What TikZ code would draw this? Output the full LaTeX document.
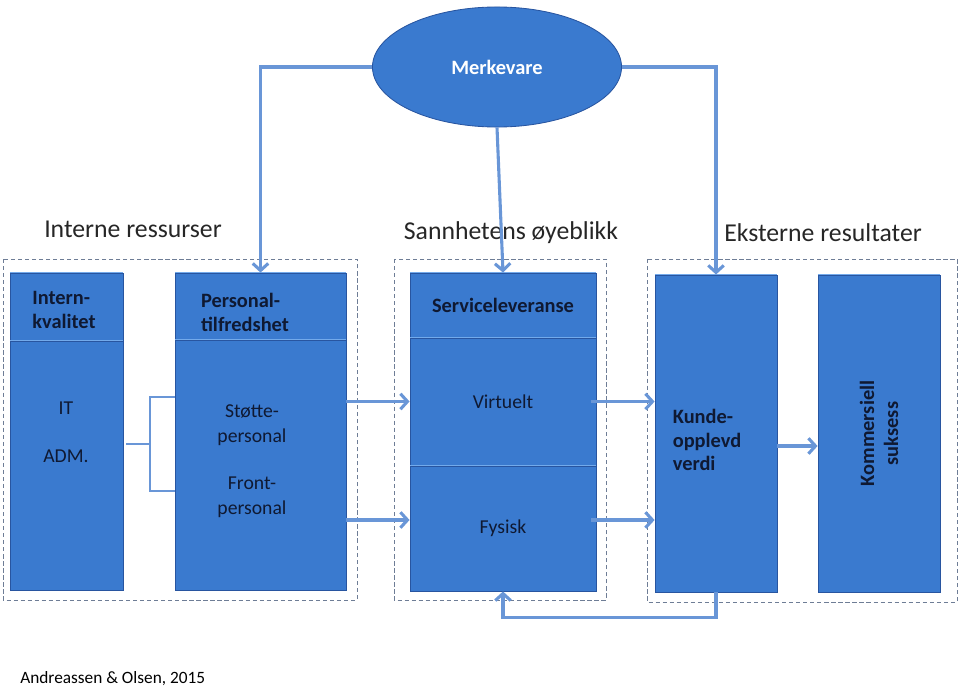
\documentclass[tikz,border=0pt]{standalone}
\usepackage{fontspec}
\setmainfont{Carlito}
\usetikzlibrary{arrows.meta,shapes.geometric}
\definecolor{boksblaa}{RGB}{58,122,207}
\definecolor{kant}{RGB}{40,85,160}
\definecolor{lys}{RGB}{115,170,235}
\definecolor{pilblaa}{RGB}{105,150,215}
\definecolor{strekgraa}{RGB}{110,125,150}
\definecolor{morktekst}{RGB}{15,25,50}
\begin{document}
\begin{tikzpicture}[x=0.025cm, y=-0.025cm,
    boks/.style={rectangle, draw=kant, fill=boksblaa, inner sep=0pt, line width=0.6pt,
        path picture={\draw[lys, line width=2pt] (path picture bounding box.north west) -- (path picture bounding box.north east);}},
    merke/.style={ellipse, draw=kant, fill=boksblaa, line width=0.6pt, minimum width=6.225cm, minimum height=3cm,
        text=white, font=\fontsize{14.5}{17}\selectfont\bfseries},
    tekst/.style={text=morktekst, font=\fontsize{14}{17.5}\selectfont, align=center, inner sep=0pt},
    fet/.style={tekst, font=\fontsize{14.5}{17}\selectfont\bfseries},
    overskrift/.style={text=black!85, font=\fontsize{18.3}{21}\selectfont},
    pil/.style={draw=pilblaa, line width=2.2pt, -{Straight Barb[length=5pt,width=11pt]}},
    tynn/.style={draw=pilblaa, line width=1pt},
    stiplet/.style={draw=strekgraa, line width=0.7pt, dash pattern=on 3pt off 2pt}]
        \useasboundingbox (0,0) rectangle (960,690);

        % Merkevare
        \node[merke] (merke) at (497,67) {Merkevare};

        % Overskrifter
        \node[overskrift] (intres) at (133,229) {Interne ressurser};
        \node[overskrift] (sann) at (511,233) {Sannhetens øyeblikk};
        \node[overskrift] (ekst) at (823,233) {Eksterne resultater};

        % Stiplede rammer
        \draw[stiplet] (3,259) rectangle (357,600);
        \draw[stiplet] (394,259) rectangle (606,600);
        \draw[stiplet] (647,259) rectangle (957,602);

        % Intern kvalitet
        \node[boks, minimum width=2.825cm, minimum height=1.675cm] (inthode) at (66.5,306.5) {};
        \node[boks, minimum width=2.825cm, minimum height=6.225cm] (intkropp) at (66.5,465.5) {};
        \node[fet, align=left] (intnavn) at (64,310) {Intern-\\kvalitet};
        \node[tekst] (it) at (66,408) {IT};
        \node[tekst] (adm) at (66,456) {ADM.};

        % Personaltilfredshet
        \node[boks, minimum width=4.275cm, minimum height=1.65cm] (pershode) at (260.5,306) {};
        \node[boks, minimum width=4.275cm, minimum height=6.25cm] (perskropp) at (260.5,465) {};
        \node[fet, align=left] (persnavn) at (245,312) {Personal-\\tilfredshet};
        \node[tekst] (stotte) at (252,425) {Støtte-\\personal};
        \node[tekst] (front) at (252,497) {Front-\\personal};

        % Serviceleveranse
        \node[boks, fet, minimum width=4.65cm, minimum height=1.6cm] (servhode) at (503,305) {Serviceleveranse};
        \node[boks, tekst, minimum width=4.65cm, minimum height=3.175cm] (virt) at (503,401.5) {Virtuelt};
        \node[boks, tekst, minimum width=4.65cm, minimum height=3.125cm] (fys) at (503,528.5) {Fysisk};

        % Eksterne resultater
        \node[boks, minimum width=3.05cm, minimum height=7.925cm] (kunde) at (716,433.5) {};
        \node[fet, align=left] (kundenavn) at (707,440) {Kunde-\\opplevd\\verdi};
        \node[boks, fet, rotate=90, minimum width=7.925cm, minimum height=3.05cm] (komm) at (879,433.5) {Kommersiell\\suksess};

        % Hjelpepunkter
        \coordinate (brakett) at (150,444);
        \coordinate (fyspil) at (0,520);
        \coordinate (kundepil) at (0,446);

        % Piler
        \draw[pil] (merke.west) -| (pershode.north);
        \draw[pil] (merke.east) -| (kunde.north);
        \draw[pil] (merke.south) -- (servhode.north);
        \draw[pil] (perskropp.east |- virt.west) -- (virt.west);
        \draw[pil] (perskropp.east |- fyspil) -- (fys.west |- fyspil);
        \draw[pil] ([xshift=-4pt]virt.east) -- (kunde.west |- virt.east);
        \draw[pil] ([xshift=-4pt]fys.east |- fyspil) -- (kunde.west |- fyspil);
        \draw[pil] (kunde.east |- kundepil) -- (komm.north |- kundepil);
        \draw[pil] (kunde.south) -- ++(0,25) -| (fys.south);

        % Klamme
        \draw[tynn] ([xshift=2pt]intkropp.east |- brakett) -- (brakett);
        \draw[tynn] (perskropp.west |- 0,397) -| (brakett) |- (perskropp.west |- 0,491);

        % Kilde
        \node[anchor=west, inner sep=0pt, font=\fontsize{12.3}{14}\selectfont] (kilde) at (20,679) {Andreassen \& Olsen, 2015};
    \end{tikzpicture}
\end{document}
